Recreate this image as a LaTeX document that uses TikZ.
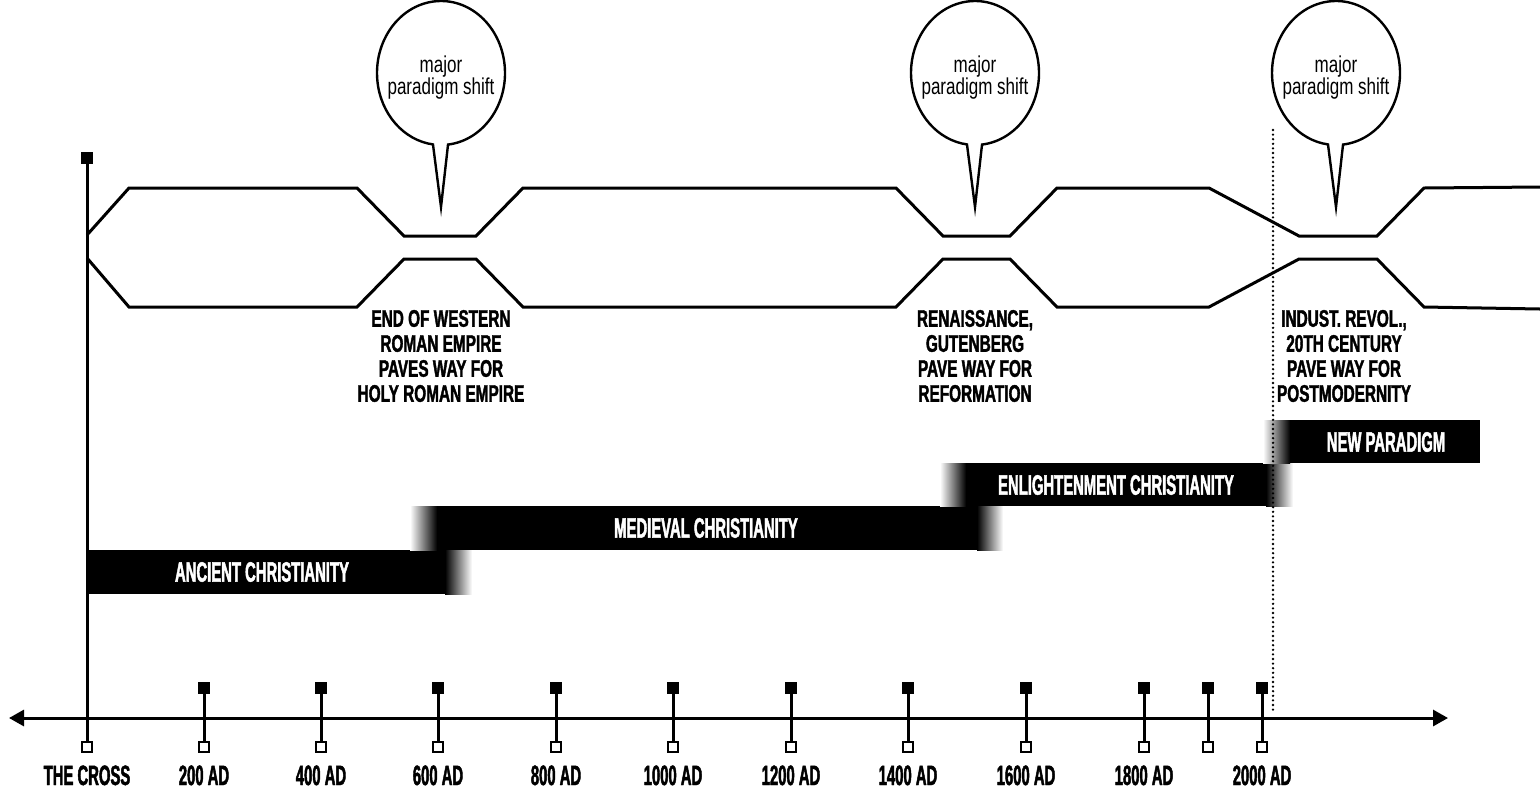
\documentclass[tikz,border=0pt]{standalone}
\usepackage{fontspec}
\usetikzlibrary{arrows.meta}
\newfontfamily\labfont[FakeStretch=0.53,FakeBold=1.6]{Liberation Sans Bold}
\newfontfamily\evfont[FakeStretch=0.64,FakeBold=1.6]{Liberation Sans Bold}
\newfontfamily\bubfont[FakeStretch=0.74]{Liberation Sans}
\begin{document}
\begin{tikzpicture}[x=0.5pt,y=-0.5pt, line join=miter,
  ln/.style={line width=1.5pt},
  fsq/.style={fill=black, minimum size=5.6pt, inner sep=0pt},
  osq/.style={draw, fill=white, line width=1pt, minimum size=5pt, inner sep=0pt},
  yr/.style={font=\labfont\fontsize{14}{14}\selectfont, anchor=base, inner sep=0pt},
  ev/.style={font=\evfont\fontsize{12}{12.5}\selectfont, align=center, inner sep=0pt},
  bartext/.style={font=\labfont\fontsize{14}{14}\selectfont, text=white, inner sep=0pt},
  bub/.style={font=\bubfont\fontsize{11.5}{11}\selectfont, align=center, inner sep=0pt},
  bubshape/.style={line width=1.2pt, fill=white},
  fadein/.style={left color=white, right color=black},
  fadeout/.style={left color=black, right color=white},
  dots/.style={line width=1.3pt, line cap=round, dash pattern=on 0pt off 2.3pt}
]
\useasboundingbox (0,0) rectangle (1540,788);
\clip (0,0) rectangle (1540,788);

% ---- era bars
\fill (87,550) rectangle (445,594);
\shade[fadeout] (445,550) rectangle (472,594);
\node[bartext] (ancient) at (262,572) {ANCIENT CHRISTIANITY};

\shade[fadein] (410,506) rectangle (437,550);
\fill (437,506) rectangle (977,550);
\shade[fadeout] (977,506) rectangle (1003,550);
\node[bartext] (medieval) at (706,528) {MEDIEVAL CHRISTIANITY};

\shade[fadein] (940,463) rectangle (966,506);
\fill (966,463) rectangle (1266,506);
\shade[fadeout] (1266,463) rectangle (1293,506);
\node[bartext] (enlight) at (1116,485) {ENLIGHTENMENT CHRISTIANITY};

\shade[fadein] (1263,420) rectangle (1290,463);
\fill (1290,420) rectangle (1480,463);
\node[bartext] (newpar) at (1386,442) {NEW PARADIGM};

% ---- paradigm band
\draw[ln] (87,235) -- (129,188) -- (357,188) -- (404,236) -- (476,236) -- (523,188)
  -- (896,188) -- (943,236) -- (1010,236) -- (1057,188) -- (1209,188) -- (1299,236)
  -- (1377,236) -- (1424,188) -- (1540,187);
\draw[ln] (87,258) -- (129,307) -- (357,307) -- (404,259) -- (476,259) -- (523,307)
  -- (896,307) -- (943,259) -- (1010,259) -- (1057,307) -- (1209,307) -- (1299,259)
  -- (1377,259) -- (1424,307) -- (1540,309);

% ---- bubbles
\foreach \cx/\n in {441/1, 975/2, 1336/3} {
  \coordinate (bc\n) at (\cx,73);
  \coordinate (tip\n) at (\cx,207);
  \draw[bubshape] (tip\n) -- ([shift={(276.3:32pt and 36pt)}]bc\n)
    arc[start angle=276.3, end angle=622.8, x radius=32pt, y radius=36pt] -- cycle;
  \node[bub] (bt\n) at (\cx,78) {major\\paradigm shift};
}

% ---- event labels
\node[ev] (e1) at (441,356) {END OF WESTERN\\ROMAN EMPIRE\\PAVES WAY FOR\\HOLY ROMAN EMPIRE};
\node[ev] (e2) at (975,356) {RENAISSANCE,\\GUTENBERG\\PAVE WAY FOR\\REFORMATION};
\node[ev] (e3) at (1344,356) {INDUST. REVOL.,\\20TH CENTURY\\PAVE WAY FOR\\POSTMODERNITY};

% ---- axis
\coordinate (axL) at (9,718);
\coordinate (axR) at (1448,718);
\draw[ln, {Triangle[length=7.5pt,width=8pt]}-{Triangle[length=7.5pt,width=8pt]}] (axL) -- (axR);

% cross
\node[fsq] (ctop) at (87,158) {};
\node[osq] (c0) at (87,747) {};
\draw[ln] (ctop.center) -- (c0.north);
\node[yr] (l0) at (87,785) {THE CROSS};

\foreach \x/\lab [count=\i] in {204/200 AD, 321/400 AD, 438/600 AD, 556/800 AD,
   673/1000 AD, 791/1200 AD, 908/1400 AD, 1026/1600 AD, 1144/1800 AD, 1262/2000 AD} {
  \node[fsq] (t\i) at (\x,688) {};
  \node[osq] (b\i) at (\x,747) {};
  \draw[ln] (t\i.center) -- (b\i.north);
  \node[yr] (l\i) at (\x,785) {\lab};
}
\node[fsq] (t19) at (1208,688) {};
\node[osq] (b19) at (1208,747) {};
\draw[ln] (t19.center) -- (b19.north);

% ---- dotted marker
\coordinate (d1) at (1273,130);
\coordinate (d2) at (1273,710);
\draw[dots] (d1) -- (d2);
\end{tikzpicture}
\end{document}
